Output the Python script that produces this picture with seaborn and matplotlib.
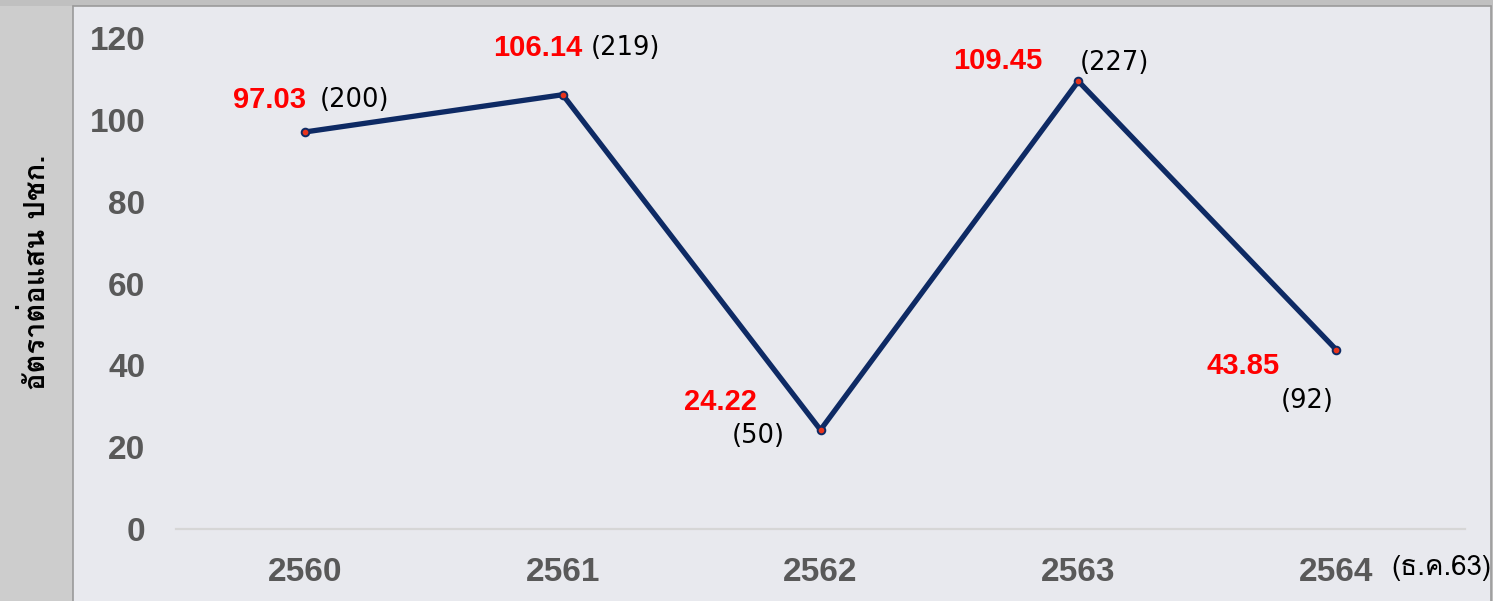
import matplotlib
matplotlib.use('Agg')
import matplotlib.pyplot as plt
from matplotlib import font_manager
from matplotlib.patches import Rectangle
from matplotlib.lines import Line2D
import seaborn as sns
import pandas as pd
from fontTools.ttLib import TTFont

# data
years = ['2560', '2561', '2562', '2563', '2564']
rates = [97.03, 106.14, 24.22, 109.45, 43.85]
cases = [200, 219, 50, 227, 92]
y_ticks = [0, 20, 40, 60, 80, 100, 120]

df = pd.DataFrame({'year': years, 'rate': rates, 'cases': cases})


# find a font that has Thai glyphs
def thai_font():
    for f in font_manager.fontManager.ttflist:
        try:
            cmap = TTFont(f.fname, fontNumber=0, lazy=True).getBestCmap()
        except Exception:
            continue
        if cmap and 0x0E2D in cmap and 0x0E31 in cmap:
            return f.name
    return 'DejaVu Sans'


THAI = thai_font()

sns.set_theme(style='dark')
plt.rcParams['font.family'] = ['Liberation Sans', 'DejaVu Sans']

W, H = 1493, 601
fig = plt.figure(figsize=(W / 100, H / 100), dpi=100)
fig.patch.set_facecolor('#e8e9ee')

# gray frame around the plot panel
fig.patches.append(Rectangle((0, 0), 73 / W, 1, transform=fig.transFigure,
                             facecolor='#cdcdcd', edgecolor='none', zorder=0))
fig.patches.append(Rectangle((0, 1 - 6 / H), 1, 6 / H, transform=fig.transFigure,
                             facecolor='#c0c0c0', edgecolor='none', zorder=0))
fig.patches.append(Rectangle((1491 / W, 0), 2 / W, 1, transform=fig.transFigure,
                             facecolor='#c0c0c0', edgecolor='none', zorder=0))
for xs, ys in [([73 / W, 73 / W], [0, 1 - 6 / H]),
               ([73 / W, 1491 / W], [1 - 6 / H, 1 - 6 / H]),
               ([1491 / W, 1491 / W], [0, 1 - 6 / H])]:
    fig.lines.append(Line2D(xs, ys, transform=fig.transFigure, color='#9a9a9a', lw=1.2))

ax = fig.add_axes([176 / W, 72 / H, (1465 - 176) / W, (529 - 38) / H])
ax.set_facecolor('#e8e9ee')

sns.lineplot(data=df, x='year', y='rate', ax=ax, color='#0e2a64', linewidth=3.8,
             marker='o', markersize=5.5, markerfacecolor='#e8341c',
             markeredgecolor='#0e2a64', markeredgewidth=1.4, zorder=3)

ax.set_xlim(-0.5, 4.5)
ax.set_ylim(0, 120)
ax.set_yticks(y_ticks)
ax.set_xlabel('')
ax.set_ylabel('')
ax.grid(False)
for s in ['top', 'left', 'right']:
    ax.spines[s].set_visible(False)
ax.spines['bottom'].set_color('#d6d6d6')
ax.spines['bottom'].set_linewidth(1.6)
ax.tick_params(axis='y', length=0, pad=22, labelsize=24, labelcolor='#595959')
ax.tick_params(axis='x', length=0, pad=20, labelsize=24, labelcolor='#595959')
for lab in ax.get_xticklabels() + ax.get_yticklabels():
    lab.set_fontweight('bold')

# label offsets in pixels: (red dx, red dy, black dx, black dy)
offsets = [(-35, 32, 50, 32), (-25, 47, 63, 47), (-100, 28, -62, -6),
           (-81, 20, 36, 18), (-93, -16, -29, -51)]
for i, (r, c) in enumerate(zip(rates, cases)):
    rdx, rdy, bdx, bdy = offsets[i]
    ax.annotate(f'{r:.2f}', (i, r), xytext=(rdx, rdy), textcoords='offset pixels',
                ha='center', va='center', color='#ff0000', fontsize=21,
                fontweight='bold')
    ax.annotate(f'({c})', (i, r), xytext=(bdx, bdy), textcoords='offset pixels',
                ha='center', va='center', color='black', fontsize=18.5,
                family=['DejaVu Sans'])

fig.text(1441 / W, 1 - 568 / H, '(ธ.ค.63)', ha='center', va='center', fontsize=20,
         color='black', family=[THAI, 'DejaVu Sans'])
fig.text(37 / W, 1 - 272 / H, 'อัตราต่อแสน ปชก.', rotation=90, ha='center', va='center',
         fontsize=21, fontweight='bold', color='black', family=[THAI, 'DejaVu Sans'])

fig.savefig('out.png', dpi=100, facecolor=fig.get_facecolor())
